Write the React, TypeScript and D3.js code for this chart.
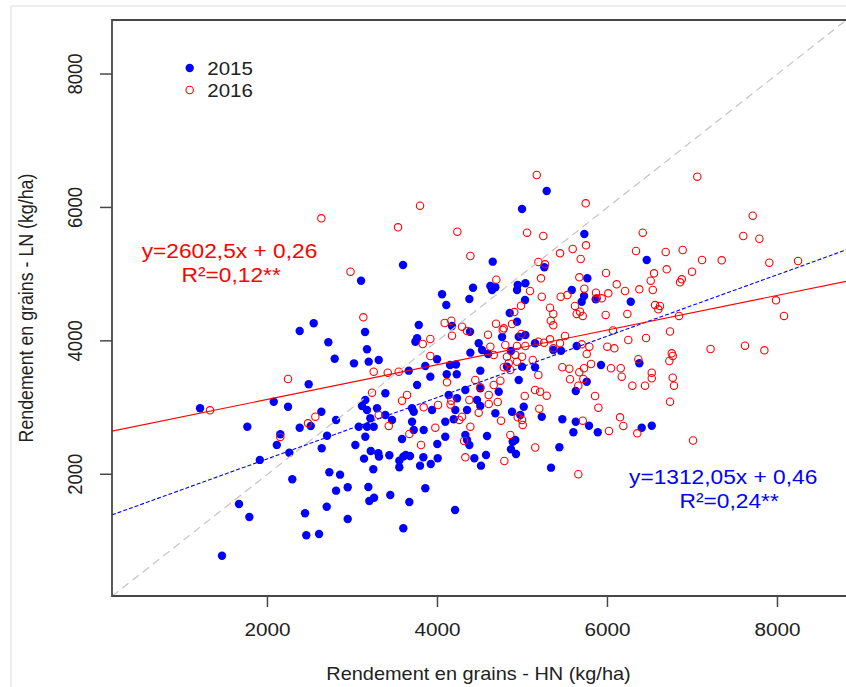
import React from "react";
import * as d3 from "d3";

// ---- data (HN yield, LN yield) in kg/ha ----
const points2015: [number, number][] = [
  [2110,2440],[1910,2215],[2257,2323],[2638,2389],[2292,1925],[2728,2030],[2854,1994],[1665,1554],
  [1787,1360],[1465,779],[2442,1415],[2457,1085],[2607,1105],[2697,1514],[2807,1754],[2944,1805],
  [2944,1330],[3034,2439],[3136,2234],[3215,2349],[3304,2314],[3312,2264],[3434,2285],[3245,2075],
  [3187,1809],[3198,1599],[3254,1649],[3445,1689],[3598,1190],[3669,1584],[3551,2204],[3551,2105],
  [3598,2264],[3627,2289],[3677,2274],[3583,2529],[3795,2129],[3834,2254],[3921,2154],[3857,1790],
  [3998,2454],[4003,2240],[4207,1465],[4375,2439],[4434,2240],[4512,2129],[4571,2289],[4885,2488],
  [4865,2374],[4924,2304],[5336,2099],[5434,2404],[2379,4148],[2544,4263],[2716,3978],[2791,3732],
  [2485,3349],[2074,3088],[2242,3013],[1207,2989],[2634,2938],[2807,2814],[1763,2713],[2379,2698],
  [2509,2724],[2151,2599],[2701,2578],[3018,3663],[4995,5977],[3595,5137],[4650,5187],[3101,4902],
  [4418,4797],[4622,4822],[4681,4803],[4642,4762],[4944,4837],[5034,4863],[4936,4762],[4054,4698],
  [4375,4627],[4104,4537],[5030,4612],[4850,4418],[3780,4238],[4171,4223],[4936,4287],[3148,4133],
  [3760,4038],[3740,3987],[3171,3873],[3191,3688],[3309,3713],[3857,3623],[3995,3724],[4485,3963],
  [4387,3823],[4524,3863],[4595,3803],[4956,4062],[5034,4088],[4995,3613],[4818,3613],[3916,3463],
  [4148,3638],[4218,3646],[4227,3499],[4109,3499],[4504,3553],[3760,3338],[3662,3553],[3387,3214],
  [3151,3113],[3112,3023],[3171,2963],[3387,2889],[3289,2989],[3701,2989],[3721,2938],[3936,2963],
  [4132,3188],[4230,3139],[4465,3113],[4504,3023],[4504,3289],[4721,3238],[4348,2963],[4328,3263],
  [4956,3413],[5015,3013],[4975,2889],[4877,2938],[4210,2963],[4092,2788],[4191,2824],[4681,2914],
  [3701,2788],[3465,2814],[3210,2839],[3074,2713],[3171,2713],[3250,2713],[3151,2563],[3721,2664],
  [3838,2664],[4092,2563],[4328,2589],[4348,2514],[4583,2574],[4916,2514],[5285,6246],[5728,5602],
  [6462,5212],[5257,5103],[5763,4938],[5580,4762],[5724,4672],[5697,4587],[5862,4623],[6274,4587],
  [5148,3963],[5363,3863],[5454,3852],[5638,3923],[5148,3604],[5924,3638],[6375,3664],[5756,3388],
  [5627,3249],[5227,2863],[5469,2824],[5627,2788],[5783,2728],[5599,2629],[5886,2629],[6403,2698],
  [6521,2728],[4383,4137],[4760,4058],[4865,3848],
];

const points2016: [number, number][] = [
  [3807,2439],[2151,2559],[4313,2499],[4328,2254],[4787,2199],[5150,2401],[5657,2000],[7007,2506],
  [2634,5837],[2977,5037],[2242,3428],[1324,2959],[2477,2764],[2563,2863],[3795,6026],[3536,5702],
  [4234,5636],[5054,5621],[4387,5272],[4692,4917],[3128,4353],[5089,4747],[4983,4527],[4904,4432],
  [4085,4268],[4163,4302],[4289,4212],[4689,4257],[4877,4253],[4780,4188],[4348,4148],[4595,4092],
  [4171,4077],[4768,4163],[4987,4103],[3916,4028],[3827,3953],[4622,3912],[4798,3938],[4936,3923],
  [5034,3923],[3916,3773],[4662,3788],[4818,3762],[4916,3788],[4995,3762],[4838,3664],[4936,3688],
  [4780,3604],[4857,3563],[3250,3538],[3415,3523],[3544,3538],[4112,3379],[4445,3413],[4740,3403],
  [4662,3338],[4504,3304],[3230,3223],[3642,3188],[3583,3103],[4163,3103],[4154,3046],[4375,3113],
  [4603,3188],[4603,3053],[4709,3083],[5027,3173],[3838,3004],[4007,3038],[4485,2923],[3309,2889],
  [4289,2863],[4257,2814],[3427,2724],[3975,2698],[4387,2713],[4748,2803],[4944,2854],[4995,2814],
  [5003,2739],[3669,2604],[4857,2589],[5168,6486],[7057,6461],[5744,6062],[5245,5572],[6415,5621],
  [5748,5432],[5591,5377],[5442,5312],[5685,5227],[6336,5347],[6685,5332],[6885,5362],[7113,5212],
  [5187,5182],[5265,5147],[6697,5073],[6995,5037],[6548,5013],[5983,5017],[5218,4938],[5669,4953],
  [6509,4902],[6874,4923],[6854,4878],[6109,4848],[5728,4782],[6375,4773],[6533,4762],[6207,4747],
  [5227,4662],[5450,4662],[5528,4687],[5865,4722],[6010,4713],[5933,4638],[5874,4638],[5618,4523],
  [5324,4497],[5363,4403],[6560,4537],[6618,4523],[6598,4473],[5677,4437],[5638,4403],[5709,4373],
  [5979,4388],[6234,4403],[6842,4373],[5333,4302],[5363,4233],[6736,4140],[6065,4155],[5501,4073],
  [6454,4043],[6245,4013],[5324,4023],[5254,3972],[5187,3987],[5442,3963],[5697,3948],[5787,3912],
  [5998,3912],[6081,3888],[5363,3888],[5756,3803],[7213,3878],[6756,3813],[6768,3773],[6728,3698],
  [6363,3724],[5121,3713],[5469,3604],[5551,3583],[5807,3653],[5724,3589],[5669,3529],[6042,3589],
  [6156,3589],[6168,3463],[6521,3523],[6521,3439],[6768,3448],[5187,3488],[5560,3424],[5716,3428],
  [5657,3328],[6293,3328],[6442,3328],[6783,3328],[5148,3263],[5207,3238],[5285,3178],[5854,3173],
  [6736,3088],[5893,2998],[5198,2983],[6148,2854],[5709,2803],[6187,2724],[6018,2649],[6351,2614],
  [7709,5876],[7598,5572],[7787,5531],[7344,5207],[7904,5172],[8242,5197],[7983,4608],[8077,4373],
  [7618,3927],[7846,3858],
];

const xTicks = [2000, 4000, 6000, 8000];
const yTicks = [2000, 4000, 6000, 8000];
const xDomain: [number, number] = [171, 8818];
const yDomain: [number, number] = [175, 8810];

const fit2015 = { intercept: 1312.05, slope: 0.46, label: "y=1312,05x + 0,46", r2: "R²=0,24**" };
const fit2016 = { intercept: 2602.5, slope: 0.26, label: "y=2602,5x + 0,26", r2: "R²=0,12**" };
const legendLabels = ["2015", "2016"];
const xTitle = "Rendement en grains - HN (kg/ha)";
const yTitle = "Rendement en grains - LN (kg/ha)";

// ---- layout ----
const W = 846, H = 687;
const L = 112, R = 847, T = 20, B = 596;
const SX = 1.12;
const FONT = "'Liberation Sans', Arial, sans-serif";
const BLUE = "#0000ff";
const RED = "#ff0000";
const AXIS = "#474747";

function SText(props: { x: number; y: number; size: number; fill?: string; anchor?: string; rotate?: boolean; children: React.ReactNode }) {
  const { x, y, size, fill = "#222", anchor = "middle", rotate = false, children } = props;
  return (
    <text
      transform={`translate(${x},${y}) scale(${SX},1)${rotate ? " rotate(-90)" : ""}`}
      fontSize={size}
      fontFamily={FONT}
      fill={fill}
      textAnchor={anchor as any}
    >
      {children}
    </text>
  );
}

export default function App() {
  const x = d3.scaleLinear().domain(xDomain).range([L, R]);
  const y = d3.scaleLinear().domain(yDomain).range([B, T]);
  const line = d3.line<[number, number]>().x((d) => x(d[0])).y((d) => y(d[1]));
  const fitLine = (f: { intercept: number; slope: number }) =>
    line(xDomain.map((v) => [v, f.intercept + f.slope * v] as [number, number])) || "";
  const diag = line([[xDomain[0], xDomain[0]], [xDomain[1], xDomain[1]]]) || "";

  return (
    <svg width={W} height={H} style={{ position: "absolute", left: 0, top: 0, background: "#fff" }}>
      <rect x={0} y={0} width={W} height={H} fill="#fff" />
      {/* faint outer frame */}
      <line x1={11} y1={6} x2={W} y2={6} stroke="#ececec" strokeWidth={2} />
      <line x1={11} y1={6} x2={11} y2={H} stroke="#ececec" strokeWidth={2} />
      <defs>
        <clipPath id="plotclip">
          <rect x={L} y={T} width={R - L} height={B - T} />
        </clipPath>
      </defs>

      <g clipPath="url(#plotclip)">
        {points2015.map((d, i) => (
          <circle key={"b" + i} cx={x(d[0])} cy={y(d[1])} r={4.2} fill={BLUE} />
        ))}
        {points2016.map((d, i) => (
          <circle key={"r" + i} cx={x(d[0])} cy={y(d[1])} r={3.7} fill="none" stroke={RED} strokeWidth={1.1} />
        ))}
        <path d={diag} stroke="#c4c4c4" strokeWidth={1.2} strokeDasharray="8,5" fill="none" />
        <path d={fitLine(fit2015)} stroke={BLUE} strokeWidth={1.1} strokeDasharray="4,2" fill="none" />
        <path d={fitLine(fit2016)} stroke={RED} strokeWidth={1.1} fill="none" />
      </g>

      {/* box */}
      <path d={`M${R},${T}H${L}V${B}H${R}`} fill="none" stroke={AXIS} strokeWidth={1.8} />

      {/* x axis ticks */}
      {xTicks.map((t) => (
        <g key={"xt" + t}>
          <line x1={x(t)} x2={x(t)} y1={B} y2={B + 11} stroke={AXIS} strokeWidth={1.5} />
          <SText x={x(t)} y={636} size={18.5}>{t}</SText>
        </g>
      ))}
      {/* y axis ticks */}
      {yTicks.map((t) => (
        <g key={"yt" + t}>
          <line x1={L - 12} x2={L} y1={y(t)} y2={y(t)} stroke={AXIS} strokeWidth={1.5} />
          <SText x={81.5} y={y(t)} size={18.5} rotate>{t}</SText>
        </g>
      ))}

      <SText x={(L + R) / 2 - 1} y={680} size={17.8}>{xTitle}</SText>
      <SText x={33} y={(T + B) / 2} size={17.8} rotate>{yTitle}</SText>

      {/* legend */}
      <circle cx={189.7} cy={68} r={4.2} fill={BLUE} />
      <circle cx={189.7} cy={90} r={3.7} fill="none" stroke={RED} strokeWidth={1.1} />
      <SText x={207.3} y={75} size={18.3} anchor="start">{legendLabels[0]}</SText>
      <SText x={207.3} y={96.7} size={18.3} anchor="start">{legendLabels[1]}</SText>

      {/* equations */}
      <SText x={229.5} y={257.7} size={20.3} fill={RED}>{fit2016.label}</SText>
      <SText x={231.2} y={281.7} size={20.3} fill={RED}>{fit2016.r2}</SText>
      <SText x={723.2} y={484} size={20.3} fill={BLUE}>{fit2015.label}</SText>
      <SText x={729.2} y={508.3} size={20.3} fill={BLUE}>{fit2015.r2}</SText>
    </svg>
  );
}
